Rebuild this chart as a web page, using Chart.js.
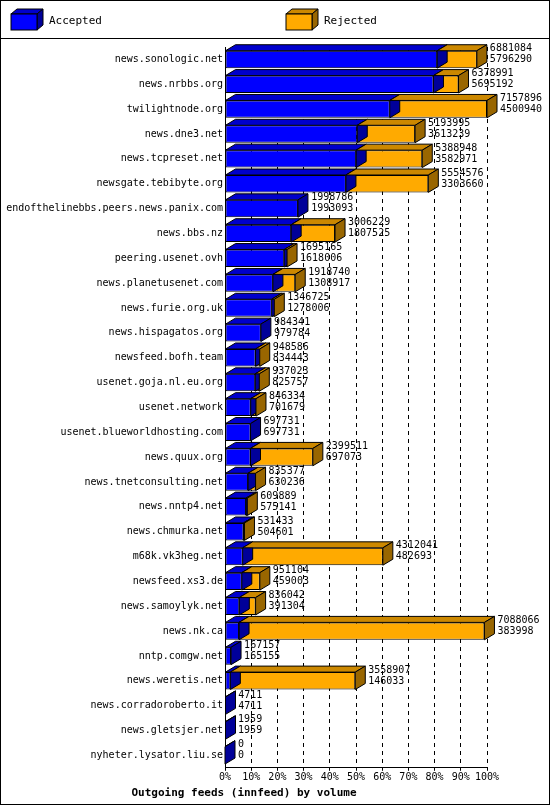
<!DOCTYPE html>
<html><head><meta charset="utf-8">
<script src="https://cdn.jsdelivr.net/npm/chart.js@4/dist/chart.umd.min.js"></script>
<style>
body{margin:0;background:#fff}
#wrap{width:548px;height:803px;border:1px solid #000;position:relative}
</style></head><body>
<div id="wrap"><canvas id="c" width="548" height="803"></canvas></div>
<script>
// Feed names, offered totals and accepted counts
const feeds = ['news.sonologic.net','news.nrbbs.org','twilightnode.org','news.dne3.net','news.tcpreset.net',
  'newsgate.tebibyte.org','endofthelinebbs.peers.news.panix.com','news.bbs.nz','peering.usenet.ovh',
  'news.planetusenet.com','news.furie.org.uk','news.hispagatos.org','newsfeed.bofh.team','usenet.goja.nl.eu.org',
  'usenet.network','usenet.blueworldhosting.com','news.quux.org','news.tnetconsulting.net','news.nntp4.net',
  'news.chmurka.net','m68k.vk3heg.net','newsfeed.xs3.de','news.samoylyk.net','news.nk.ca','nntp.comgw.net',
  'news.weretis.net','news.corradoroberto.it','news.gletsjer.net','nyheter.lysator.liu.se'];
const offered = [6881084,6378991,7157896,5193995,5388948,5554576,1998786,3006229,1695165,1918740,1346725,
  984341,948586,937023,846334,697731,2399511,835377,609889,531433,4312041,951104,836042,7088066,167157,
  3558907,4711,1959,0];
const accepted = [5796290,5695192,4500940,3613239,3582971,3303660,1993093,1807525,1618006,1308917,1278006,
  979784,834443,825757,701679,697731,697073,630236,575141,504601,482693,459003,391304,383998,165155,
  146033,4711,1959,0];
const tickLabels = ['0%','10%','20%','30%','40%','50%','60%','70%','80%','90%','100%'];

const maxV = Math.max(...offered);
const pct = v => v / maxV * 100;
const MONO = '"DejaVu Sans Mono", monospace';
const DX = 10, DY = -6;

function shade(hex, f) {
  const n = parseInt(hex.slice(1), 16);
  const r = Math.round((n >> 16) * f), g = Math.round(((n >> 8) & 255) * f), b = Math.round((n & 255) * f);
  return `rgb(${r},${g},${b})`;
}

const bar3d = {
  id: 'bar3d',
  afterDatasetsDraw(chart) {
    const ctx = chart.ctx;
    ctx.save();
    ctx.strokeStyle = '#000';
    ctx.lineWidth = 1;
    const n = chart.data.labels.length;
    for (let i = 0; i < n; i++) {
      chart.data.datasets.forEach((ds, d) => {
        const el = chart.getDatasetMeta(d).data[i];
        const col = ds.backgroundColor;
        const x0 = Math.min(el.base, el.x), x1 = Math.max(el.base, el.x);
        const top = el.y - el.height / 2, bot = el.y + el.height / 2;
        if (x1 - x0 < 0.5 && d === 1) return;
        // top face
        ctx.fillStyle = shade(col, 0.8);
        ctx.beginPath();
        ctx.moveTo(x0, top); ctx.lineTo(x0 + DX, top + DY);
        ctx.lineTo(x1 + DX, top + DY); ctx.lineTo(x1, top); ctx.closePath();
        ctx.fill(); ctx.stroke();
        // side face
        ctx.fillStyle = shade(col, 0.6);
        ctx.beginPath();
        ctx.moveTo(x1, top); ctx.lineTo(x1 + DX, top + DY);
        ctx.lineTo(x1 + DX, bot + DY); ctx.lineTo(x1, bot); ctx.closePath();
        ctx.fill(); ctx.stroke();
      });
      // value labels
      const el = chart.getDatasetMeta(1).data[i];
      const x = Math.max(el.x, el.base) + DX + 3;
      const top = el.y - el.height / 2 + DY;
      ctx.fillStyle = '#000';
      ctx.font = '10px ' + MONO;
      ctx.textBaseline = 'top';
      ctx.fillText(String(offered[i]), x, top - 1);
      ctx.fillText(String(accepted[i]), x, top + 10);
    }
    ctx.restore();
  },
  afterDraw(chart) {
    const ctx = chart.ctx;
    ctx.save();
    // legend
    const items = [['Accepted', '#0000ff', 10], ['Rejected', '#ffaa00', 285]];
    ctx.font = '11px ' + MONO;
    ctx.textBaseline = 'middle';
    ctx.strokeStyle = '#000';
    items.forEach(([t, c, x]) => {
      const y = 13, w = 26, h = 16;
      ctx.fillStyle = shade(c, 0.8);
      ctx.beginPath(); ctx.moveTo(x, y); ctx.lineTo(x + 6, y - 5); ctx.lineTo(x + w + 6, y - 5); ctx.lineTo(x + w, y); ctx.closePath(); ctx.fill(); ctx.stroke();
      ctx.fillStyle = shade(c, 0.6);
      ctx.beginPath(); ctx.moveTo(x + w, y); ctx.lineTo(x + w + 6, y - 5); ctx.lineTo(x + w + 6, y + h - 5); ctx.lineTo(x + w, y + h); ctx.closePath(); ctx.fill(); ctx.stroke();
      ctx.fillStyle = c; ctx.fillRect(x, y, w, h); ctx.strokeRect(x, y, w, h);
      ctx.fillStyle = '#000'; ctx.fillText(t, x + w + 12, y + 7);
    });
    ctx.beginPath(); ctx.moveTo(0, 37.5); ctx.lineTo(548, 37.5); ctx.stroke();
    ctx.restore();
  }
};

new Chart(document.getElementById('c'), {
  type: 'bar',
  data: {
    labels: feeds,
    datasets: [
      { label: 'Accepted', data: accepted.map(pct), backgroundColor: '#0000ff' },
      { label: 'Rejected', data: offered.map((v, i) => pct(v - accepted[i])), backgroundColor: '#ffaa00' }
    ]
  },
  plugins: [bar3d],
  options: {
    indexAxis: 'y',
    responsive: false,
    animation: false,
    borderColor: '#000',
    borderWidth: 1,
    borderSkipped: false,
    categoryPercentage: 1,
    barPercentage: 0.7,
    layout: { padding: { top: 46, right: 62, bottom: 4, left: 0 } },
    plugins: {
      legend: { display: false },
      tooltip: { enabled: false },
      title: {
        display: true, position: 'bottom', text: 'Outgoing feeds (innfeed) by volume',
        color: '#000', font: { family: MONO, size: 11, weight: 'bold' }, padding: { top: 2, bottom: 0 }
      }
    },
    scales: {
      x: {
        stacked: true, min: 0, max: 100,
        ticks: { stepSize: 10, color: '#000', font: { family: MONO, size: 10 }, padding: 1,
          maxRotation: 0, minRotation: 0, autoSkip: false,
          callback: (v, i) => tickLabels[i] },
        grid: { color: '#000', tickLength: 3, drawTicks: true },
        border: { color: '#000', dash: [4, 4] }
      },
      y: {
        stacked: true,
        afterFit: s => { s.width = 224; },
        ticks: { color: '#000', font: { family: MONO, size: 10 }, autoSkip: false, padding: 2 },
        grid: { display: false, tickLength: 0 },
        border: { color: '#000' }
      }
    }
  }
});
</script>
</body></html>
